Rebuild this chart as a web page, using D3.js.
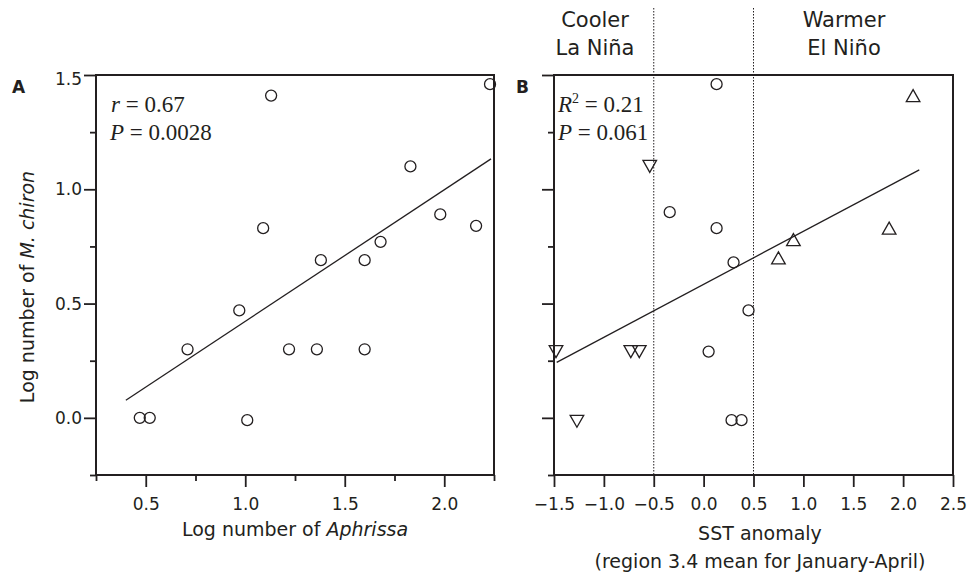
<!DOCTYPE html>
<html>
<head>
<meta charset="utf-8">
<script src="https://cdn.jsdelivr.net/npm/d3@7"></script>
<style>
body { margin: 0; background: #fff; }
svg text { font-family: "DejaVu Sans", sans-serif; fill: #231f20; }
.tick text { font-size: 17px; }
.title { font-size: 19px; }
.stat { font-family: "Liberation Serif", serif; font-size: 23px; }
.letter { font-weight: bold; font-size: 17px; }
.phase { font-size: 21px; text-anchor: middle; }
</style>
</head>
<body>
<svg id="chart" width="968" height="580"></svg>
<script>
// panel A: log Aphrissa vs log M. chiron
const aphrissa = [0.47, 0.52, 0.71, 0.97, 1.01, 1.09, 1.13, 1.22, 1.36, 1.38, 1.60, 1.60, 1.68, 1.83, 1.98, 2.16, 2.23];
const chironA  = [0.0, 0.0, 0.30, 0.47, -0.01, 0.83, 1.41, 0.30, 0.30, 0.69, 0.69, 0.30, 0.77, 1.10, 0.89, 0.84, 1.46];
const fitAx = [0.40, 2.235];
const fitAy = [0.077, 1.133];

// panel B: SST anomaly vs log M. chiron, by ENSO phase
const neutralSST = [0.13, -0.34, 0.13, 0.30, 0.45, 0.05, 0.28, 0.38];
const neutralY   = [1.46, 0.90, 0.83, 0.68, 0.47, 0.29, -0.01, -0.01];
const laNinaSST  = [-0.54, -1.48, -0.73, -0.645, -1.27];
const laNinaY    = [1.10, 0.29, 0.29, 0.29, -0.015];
const elNinoSST  = [2.10, 1.86, 0.90, 0.75];
const elNinoY    = [1.41, 0.83, 0.78, 0.70];
const fitBx = [-1.473, 2.162];
const fitBy = [0.243, 1.085];
const phaseBounds = [-0.5, 0.5];

const yMajor = [0, 0.5, 1.0, 1.5];
const yMinor = [-0.25, 0.25, 0.75, 1.25];
const xMajorA = [0.5, 1.0, 1.5, 2.0];
const xMinorA = [0.25, 0.75, 1.25, 1.75, 2.25];
const xTicksB = [-1.5, -1.0, -0.5, 0, 0.5, 1.0, 1.5, 2.0, 2.5];

const ink = "#231f20";
const svg = d3.select("#chart");
const fmt = d3.format(".1f");

const y = d3.scaleLinear().domain([-0.25, 1.5]).range([475, 75]);
const xA = d3.scaleLinear().domain([0.25, 2.25]).range([96, 494]);
const xB = d3.scaleLinear().domain([-1.5, 2.5]).range([554, 953]);

function styleAxis(g) {
    g.select(".domain").remove();
    g.selectAll(".tick line").attr("stroke", ink).attr("stroke-width", 1.8);
    g.selectAll(".tick text").attr("fill", ink);
}

function box(x) {
    svg.append("rect")
        .attr("x", x.range()[0])
        .attr("y", y.range()[1])
        .attr("width", x.range()[1] - x.range()[0])
        .attr("height", y.range()[0] - y.range()[1])
        .attr("fill", "none")
        .attr("stroke", ink)
        .attr("stroke-width", 2);
}

function yTicks(left, labels) {
    const major = svg.append("g").attr("transform", "translate(" + left + ",0)")
        .call(d3.axisLeft(y).tickValues(yMajor).tickSize(12).tickPadding(2)
            .tickFormat(labels ? fmt : ""))
        .call(styleAxis);
    // top label sits a little below its tick
    major.selectAll(".tick text").filter((d) => d === 1.5).attr("dy", "0.55em");
    svg.append("g").attr("transform", "translate(" + left + ",0)")
        .call(d3.axisLeft(y).tickValues(yMinor).tickSize(6).tickFormat(""))
        .call(styleAxis);
}

function triangle(cx, cy, up) {
    const h = 6, w = 6.8;
    if (up) return `M${cx},${cy - h}L${cx + w},${cy + h}L${cx - w},${cy + h}Z`;
    return `M${cx},${cy + h}L${cx + w},${cy - h}L${cx - w},${cy - h}Z`;
}

// ---- panel A ----
svg.append("g").attr("transform", "translate(0,475)")
    .call(d3.axisBottom(xA).tickValues(xMajorA).tickSize(12).tickPadding(11).tickFormat(fmt))
    .call(styleAxis);
svg.append("g").attr("transform", "translate(0,475)")
    .call(d3.axisBottom(xA).tickValues(xMinorA).tickSize(6).tickFormat(""))
    .call(styleAxis);
yTicks(96, true);
box(xA);

svg.append("line")
    .attr("x1", xA(fitAx[0])).attr("y1", y(fitAy[0]))
    .attr("x2", xA(fitAx[1])).attr("y2", y(fitAy[1]))
    .attr("stroke", ink).attr("stroke-width", 1.3);

svg.append("g").selectAll("circle")
    .data(aphrissa).enter()
    .append("circle")
    .attr("cx", (d) => xA(d))
    .attr("cy", (d, i) => y(chironA[i]))
    .attr("r", 5.5)
    .attr("fill", "none")
    .attr("stroke", ink)
    .attr("stroke-width", 1.3);

svg.append("text").attr("class", "letter").attr("x", 12).attr("y", 93).text("A");

let s = svg.append("text").attr("class", "stat").attr("x", 111).attr("y", 112);
s.append("tspan").attr("font-style", "italic").text("r");
s.append("tspan").text(" = 0.67");
s = svg.append("text").attr("class", "stat").attr("x", 110).attr("y", 140);
s.append("tspan").attr("font-style", "italic").text("P");
s.append("tspan").text(" = 0.0028");

let t = svg.append("text").attr("class", "title")
    .attr("text-anchor", "middle").attr("x", 295).attr("y", 536);
t.append("tspan").text("Log number of ");
t.append("tspan").attr("font-style", "italic").text("Aphrissa");

t = svg.append("text").attr("class", "title")
    .attr("text-anchor", "middle")
    .attr("transform", "translate(34,287) rotate(-90)");
t.append("tspan").text("Log number of ");
t.append("tspan").attr("font-style", "italic").text("M. chiron");

// ---- panel B ----
svg.append("g").selectAll("line")
    .data(phaseBounds).enter()
    .append("line")
    .attr("x1", (d) => xB(d)).attr("x2", (d) => xB(d))
    .attr("y1", 8).attr("y2", y.range()[0])
    .attr("stroke", ink)
    .attr("stroke-width", 1)
    .attr("stroke-dasharray", "1.5,1.5");

svg.append("g").attr("transform", "translate(0,475)")
    .call(d3.axisBottom(xB).tickValues(xTicksB).tickSize(12).tickPadding(11).tickFormat(fmt))
    .call(styleAxis);
yTicks(554, false);
box(xB);

svg.append("line")
    .attr("x1", xB(fitBx[0])).attr("y1", y(fitBy[0]))
    .attr("x2", xB(fitBx[1])).attr("y2", y(fitBy[1]))
    .attr("stroke", ink).attr("stroke-width", 1.3);

svg.append("g").selectAll("circle")
    .data(neutralSST).enter()
    .append("circle")
    .attr("cx", (d) => xB(d))
    .attr("cy", (d, i) => y(neutralY[i]))
    .attr("r", 5.5)
    .attr("fill", "none")
    .attr("stroke", ink)
    .attr("stroke-width", 1.3);

svg.append("g").selectAll("path")
    .data(laNinaSST).enter()
    .append("path")
    .attr("d", (d, i) => triangle(xB(d), y(laNinaY[i]), false))
    .attr("fill", "none")
    .attr("stroke", ink)
    .attr("stroke-width", 1.3);

svg.append("g").selectAll("path")
    .data(elNinoSST).enter()
    .append("path")
    .attr("d", (d, i) => triangle(xB(d), y(elNinoY[i]), true))
    .attr("fill", "none")
    .attr("stroke", ink)
    .attr("stroke-width", 1.3);

svg.append("text").attr("class", "letter").attr("x", 516).attr("y", 93).text("B");

s = svg.append("text").attr("class", "stat").attr("x", 558).attr("y", 112);
s.append("tspan").attr("font-style", "italic").text("R");
s.append("tspan").attr("font-size", "14px").attr("dy", -9).text("2");
s.append("tspan").attr("dy", 9).text(" = 0.21");
s = svg.append("text").attr("class", "stat").attr("x", 558).attr("y", 140);
s.append("tspan").attr("font-style", "italic").text("P");
s.append("tspan").text(" = 0.061");

svg.append("text").attr("class", "phase").attr("x", 595).attr("y", 27).text("Cooler");
svg.append("text").attr("class", "phase").attr("x", 595).attr("y", 55).text("La Niña");
svg.append("text").attr("class", "phase").attr("x", 844).attr("y", 27).text("Warmer");
svg.append("text").attr("class", "phase").attr("x", 844).attr("y", 55).text("El Niño");

svg.append("text").attr("class", "title")
    .attr("text-anchor", "middle").attr("x", 760).attr("y", 540)
    .text("SST anomaly");
svg.append("text").attr("class", "title")
    .attr("text-anchor", "middle").attr("x", 760).attr("y", 568)
    .text("(region 3.4 mean for January-April)");
</script>
</body>
</html>
